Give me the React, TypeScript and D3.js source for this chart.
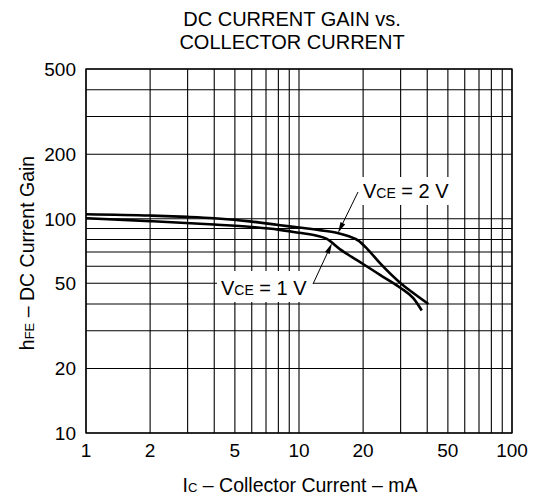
import React from "react";
import * as d3 from "d3";

// collector current (mA) and DC current gain
const icVce2 = [1, 2, 3, 4, 6, 8, 10, 12.5, 15, 17, 19, 21, 24, 30, 34.4, 40.5];
const hfeVce2 = [105, 103.5, 102, 100.5, 97, 93.5, 91, 88.5, 86, 83, 79, 72, 62, 50, 45, 40];

const icVce1 = [1, 2, 4, 6, 8, 10, 12, 13.5, 15.6, 17.6, 20, 24, 30, 34.4, 37.7];
const hfeVce1 = [100.5, 97.5, 94, 91.5, 89, 86, 83.5, 80.5, 72, 66.5, 61.5, 54.7, 47.5, 42.6, 37.3];

const xTicks = [1, 2, 5, 10, 20, 50, 100];
const yTicks = [10, 20, 50, 100, 200, 500];
const xGrid = [1, 2, 3, 4, 5, 6, 7, 8, 9, 10, 20, 30, 40, 50, 60, 70, 80, 90, 100];
const yGrid = [10, 20, 30, 40, 50, 60, 70, 80, 90, 100, 200, 300, 400, 500];

const width = 535;
const height = 499;
const font = "Liberation Sans, Arial, Helvetica, sans-serif";

export default function App() {
  const x = d3.scaleLog().domain([1, 100]).range([86, 512]);
  const y = d3.scaleLog().domain([10, 500]).range([433, 69]);

  const line = d3
    .line<[number, number]>()
    .x((d) => x(d[0]))
    .y((d) => y(d[1]))
    .curve(d3.curveMonotoneX);

  const vce2 = line(icVce2.map((v, i) => [v, hfeVce2[i]]) as [number, number][]);
  const vce1 = line(icVce1.map((v, i) => [v, hfeVce1[i]]) as [number, number][]);

  const arrow = (x1: number, y1: number, x2: number, y2: number) => {
    // thin filled arrowhead at (x2, y2)
    const a = Math.atan2(y2 - y1, x2 - x1);
    const len = 11;
    const w = 2.6;
    const bx = x2 - len * Math.cos(a);
    const by = y2 - len * Math.sin(a);
    const px = -Math.sin(a) * w;
    const py = Math.cos(a) * w;
    return (
      <g>
        <line x1={x1} y1={y1} x2={bx} y2={by} stroke="#000" strokeWidth={1} />
        <path d={`M${x2},${y2}L${bx + px},${by + py}L${bx - px},${by - py}Z`} fill="#000" />
      </g>
    );
  };

  return (
    <svg width={width} height={height} style={{ position: "absolute", left: 0, top: 0 }} fontFamily={font}>
      <rect width={width} height={height} fill="#fff" />

      {/* title */}
      <text x={292} y={26} textAnchor="middle" fontSize={20}>DC CURRENT GAIN vs.</text>
      <text x={292} y={49} textAnchor="middle" fontSize={20}>COLLECTOR CURRENT</text>

      {/* grid */}
      <g stroke="#000" strokeWidth={1.1}>
        {xGrid.map((v) => (
          <line key={"x" + v} x1={x(v)} x2={x(v)} y1={y(10)} y2={y(500)} />
        ))}
        {yGrid.map((v) => (
          <line key={"y" + v} x1={x(1)} x2={x(100)} y1={y(v)} y2={y(v)} />
        ))}
      </g>
      <rect x={x(1)} y={y(500)} width={x(100) - x(1)} height={y(10) - y(500)} fill="none" stroke="#000" strokeWidth={1.3} />

      {/* curves */}
      <path d={vce2 ?? ""} fill="none" stroke="#000" strokeWidth={2.6} />
      <path d={vce1 ?? ""} fill="none" stroke="#000" strokeWidth={2.6} />

      {/* labels */}
      <rect x={357} y={177} width={96} height={28} fill="#fff" />
      <text x={363} y={198} fontSize={20}>
        V<tspan fontSize={14}>CE</tspan> = 2 V
      </text>
      {arrow(358, 192, 338, 233)}

      <rect x={217} y={271} width={96} height={31} fill="#fff" />
      <text x={221} y={295} fontSize={20}>
        V<tspan fontSize={14}>CE</tspan> = 1 V
      </text>
      {arrow(313, 284, 332, 243)}

      {/* x ticks */}
      {xTicks.map((v) => (
        <text key={"xt" + v} x={x(v)} y={457} textAnchor="middle" fontSize={19}>
          {v}
        </text>
      ))}
      {/* y ticks */}
      {yTicks.map((v) => (
        <text key={"yt" + v} x={76} y={y(v)} dy="0.36em" textAnchor="end" fontSize={19}>
          {v}
        </text>
      ))}

      {/* axis titles */}
      <text x={300} y={492} textAnchor="middle" fontSize={19.5}>
        I<tspan fontSize={13}>C</tspan> – Collector Current – mA
      </text>
      <text transform="translate(34,253) rotate(-90)" textAnchor="middle" fontSize={19.5}>
        h<tspan fontSize={13}>FE</tspan> – DC Current Gain
      </text>
    </svg>
  );
}
